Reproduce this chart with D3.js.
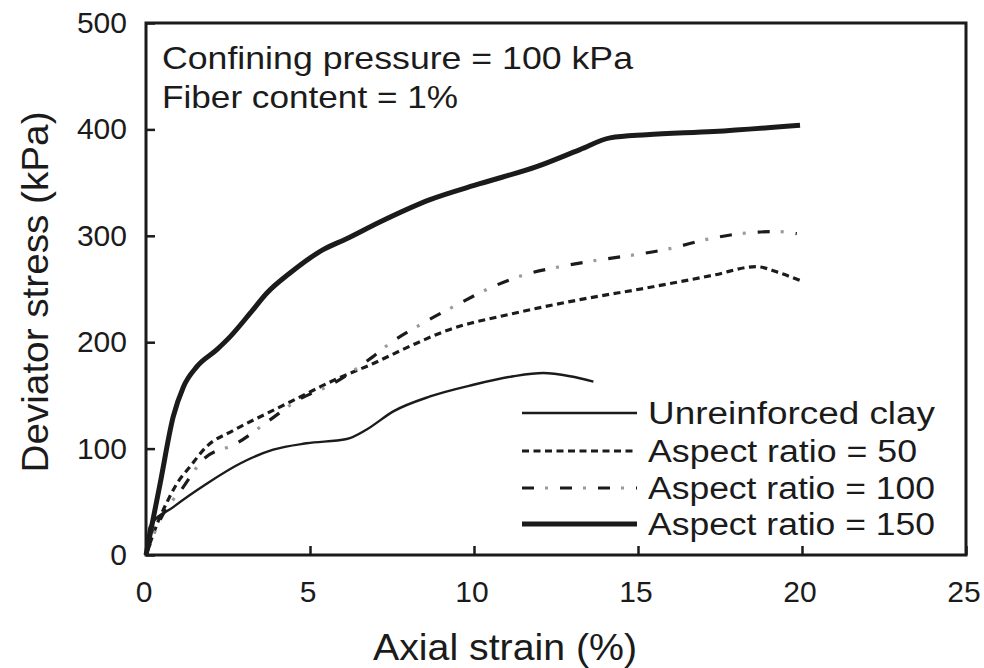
<!DOCTYPE html>
<html>
<head>
<meta charset="utf-8">
<script src="https://cdn.jsdelivr.net/npm/d3@7"></script>
<style>
  html, body { margin: 0; padding: 0; background: #fff; }
  svg { display: block; font-family: "Liberation Sans", Arial, sans-serif; }
</style>
</head>
<body>
<svg id="chart" width="984" height="668"></svg>
<script>
// Stress–strain curves, fiber-reinforced clay (confining pressure 100 kPa, fiber content 1%)
const strainUnreinforced = [0, 0.12, 0.83, 1.85, 2.87, 3.88, 4.9, 6.12, 6.73, 7.54, 8.66, 9.98, 11.2, 12.11, 12.93, 13.64];
const stressUnreinforced = [0, 27, 45, 67, 86, 99, 105, 109, 118, 135, 149, 160, 168, 171, 168, 163];

const strainAR50 = [0, 0.43, 0.63, 0.94, 1.34, 1.85, 2.66, 3.68, 4.6, 5.71, 6.93, 8.1, 9.17, 11.2, 13.23, 15.26, 17.3, 18.6, 19.33, 19.94];
const stressAR50 = [0, 36, 49, 67, 83, 102, 117, 133, 147, 164, 180, 197, 211, 227, 240, 251, 263, 271, 265, 258];

const strainAR100 = [0, 0.43, 1.14, 1.75, 2.77, 3.78, 4.6, 5.7, 6.9, 7.44, 8.45, 9.47, 10.49, 11.5, 12.62, 13.74, 14.86, 15.98, 17.0, 18.1, 19.2, 19.84];
const stressAR100 = [0, 33, 64, 90, 105, 127, 145, 161, 186, 199, 218, 235, 251, 263, 271, 277, 282, 288, 296, 302, 304, 302];

const strainAR150 = [0, 0.43, 0.83, 1.14, 1.55, 2.16, 2.56, 3.17, 3.68, 4.39, 5.4, 6.1, 7.13, 8.66, 10.18, 11.91, 13.23, 14.15, 15.26, 17.3, 19.94];
const stressAR150 = [0, 67, 130, 158, 177, 193, 205, 227, 246, 265, 287, 297, 313, 334, 349, 365, 381, 392, 395, 398, 404];

const seriesNames = ["Unreinforced clay", "Aspect ratio = 50", "Aspect ratio = 100", "Aspect ratio = 150"];
const xTicks = [0, 5, 10, 15, 20, 25];
const yTicks = [0, 100, 200, 300, 400, 500];
const annotationLines = ["Confining pressure = 100 kPa", "Fiber content = 1%"];

const svg = d3.select("#chart");
const ink = "#1b1b1b";

const x = d3.scaleLinear().domain([0, 25]).range([146, 966]);
const y = d3.scaleLinear().domain([0, 500]).range([555, 23]);

// Plot frame
svg.append("rect")
  .attr("x", x(0)).attr("y", y(500))
  .attr("width", x(25) - x(0)).attr("height", y(0) - y(500))
  .attr("fill", "none").attr("stroke", ink).attr("stroke-width", 3);

// Axes with inward ticks
const xAxis = svg.append("g").attr("transform", `translate(0,${y(0)})`)
  .call(d3.axisTop(x).tickValues(xTicks).tickSize(9).tickFormat(""));
xAxis.select(".domain").remove();
xAxis.selectAll("line").attr("stroke", ink).attr("stroke-width", 2.5);

const yAxis = svg.append("g").attr("transform", `translate(${x(0)},0)`)
  .call(d3.axisRight(y).tickValues(yTicks).tickSize(9).tickFormat(""));
yAxis.select(".domain").remove();
yAxis.selectAll("line").attr("stroke", ink).attr("stroke-width", 2.5);

// Tick labels
svg.append("g").selectAll("text").data(xTicks).join("text")
  .attr("x", d => x(d) - 2).attr("y", 602)
  .attr("text-anchor", "middle").attr("font-size", 30).attr("fill", ink)
  .text(d => d);

svg.append("g").selectAll("text").data(yTicks).join("text")
  .attr("x", 127).attr("y", d => y(d) + 10)
  .attr("text-anchor", "end").attr("font-size", 30).attr("fill", ink)
  .text(d => d);

// Axis titles
svg.append("text")
  .attr("x", 505).attr("y", 660)
  .attr("text-anchor", "middle").attr("font-size", 37).attr("fill", ink)
  .attr("textLength", 264).attr("lengthAdjust", "spacingAndGlyphs")
  .text("Axial strain (%)");

svg.append("text")
  .attr("transform", "translate(48,292) rotate(-90)")
  .attr("text-anchor", "middle").attr("font-size", 37).attr("fill", ink)
  .attr("textLength", 361).attr("lengthAdjust", "spacingAndGlyphs")
  .text("Deviator stress (kPa)");

// Annotation
svg.append("g").selectAll("text").data(annotationLines).join("text")
  .attr("x", 162).attr("y", (d, i) => 69 + i * 39)
  .attr("font-size", 32).attr("fill", ink)
  .attr("textLength", (d, i) => i === 0 ? 471 : 296)
  .attr("lengthAdjust", "spacingAndGlyphs")
  .text(d => d);

// Curves
const line = d3.line().x(d => x(d[0])).y(d => y(d[1])).curve(d3.curveMonotoneX);
const zip = (a, b) => a.map((v, i) => [v, b[i]]);

const curves = [
  { data: zip(strainUnreinforced, stressUnreinforced), width: 2.4, dash: null },
  { data: zip(strainAR50, stressAR50), width: 3.2, dash: "7,4.5" },
  { data: zip(strainAR100, stressAR100), width: 3.2, dash: "dashdot" },
  { data: zip(strainAR150, stressAR150), width: 5, dash: null }
];

function drawStroke(g, dAttr, c) {
  if (c.dash === "dashdot") {
    g.append("path").attr("d", dAttr).attr("fill", "none")
      .attr("stroke", ink).attr("stroke-width", c.width)
      .attr("stroke-dasharray", "12,26");
    g.append("path").attr("d", dAttr).attr("fill", "none")
      .attr("stroke", "#9a9a9a").attr("stroke-width", c.width)
      .attr("stroke-dasharray", "3,35").attr("stroke-dashoffset", 15);
  } else {
    g.append("path").attr("d", dAttr).attr("fill", "none")
      .attr("stroke", ink).attr("stroke-width", c.width)
      .attr("stroke-linejoin", "round")
      .attr("stroke-dasharray", c.dash);
  }
}

const plot = svg.append("g");
curves.forEach(c => drawStroke(plot, line(c.data), c));

// Legend
const legendRows = [413, 451, 488, 524];
const legendWidths = [287, 269, 287, 287];
const legend = svg.append("g");
curves.forEach((c, i) => {
  const ly = legendRows[i];
  drawStroke(legend, `M522,${ly}H637`, c);
  legend.append("text")
    .attr("x", 648).attr("y", ly + 11)
    .attr("font-size", 31).attr("fill", ink)
    .attr("textLength", legendWidths[i]).attr("lengthAdjust", "spacingAndGlyphs")
    .text(seriesNames[i]);
});
</script>
</body>
</html>
